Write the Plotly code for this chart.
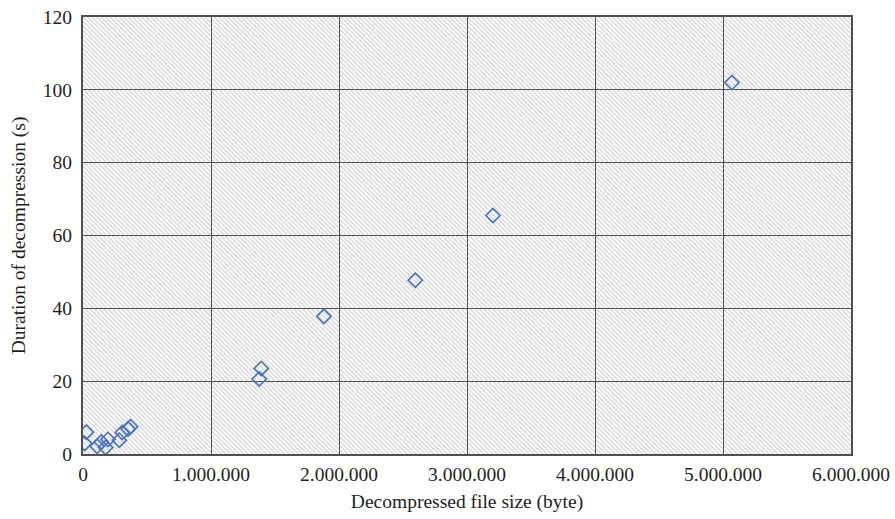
import plotly.graph_objects as go

# Data
file_size_bytes = [13000, 26000, 110000, 143000, 177000, 195000, 284000, 307000,
                   352000, 372000, 1377000, 1393000, 1882000, 2596000, 3203000, 5070000]
duration_s = [2.9, 6.0, 2.1, 3.3, 1.8, 4.0, 3.8, 5.9,
              6.9, 7.5, 20.6, 23.5, 37.8, 47.7, 65.5, 102.0]

x_range = [0, 6000000]
y_range = [0, 120]
x_ticks = [0, 1000000, 2000000, 3000000, 4000000, 5000000, 6000000]
y_ticks = [0, 20, 40, 60, 80, 100, 120]

font_family = "Liberation Serif"
text_color = "#231f20"
grid_color = "#404040"
fs = 19.5

fig = go.Figure()

# Hatched plot-area background (decoration spanning the axis ranges)
fig.add_trace(go.Scatter(
    x=[x_range[0], x_range[1], x_range[1], x_range[0], x_range[0]],
    y=[y_range[0], y_range[0], y_range[1], y_range[1], y_range[0]],
    mode="lines", line=dict(width=0), fill="toself",
    fillcolor="rgba(0,0,0,0)",
    fillpattern=dict(shape="\\", fgcolor="#a3a3a3", bgcolor="rgba(0,0,0,0)",
                     size=3.2, solidity=0.38),
    hoverinfo="skip", showlegend=False,
))

fig.add_trace(go.Scatter(
    x=file_size_bytes, y=duration_s, mode="markers",
    marker=dict(symbol="diamond-open", size=11, color="#4472c4",
                line=dict(width=1.6, color="#4472c4")),
    showlegend=False,
))

fig.update_layout(
    width=895, height=519,
    margin=dict(l=83, r=44, t=17, b=65),
    paper_bgcolor="white", plot_bgcolor="white",
    separators=",.",
    font=dict(family=font_family, size=fs, color=text_color),
)

fig.update_xaxes(
    range=x_range, tickvals=x_ticks, tickformat=",d",
    showgrid=True, gridcolor=grid_color, gridwidth=1.3,
    showline=True, linecolor="#505050", linewidth=2, mirror=True,
    zeroline=False, ticks="", ticklen=0, automargin=False,
    ticklabelstandoff=2,
    title=dict(text="Decompressed file size (byte)", font=dict(size=fs), standoff=10),
    tickfont=dict(size=fs),
)
fig.update_yaxes(
    range=y_range, tickvals=y_ticks,
    showgrid=True, gridcolor=grid_color, gridwidth=1.3,
    showline=True, linecolor="#505050", linewidth=2, mirror=True,
    zeroline=False, ticks="", ticklen=0, automargin=False,
    ticklabelstandoff=5,
    title=dict(text="Duration of decompression (s)", font=dict(size=fs), standoff=12),
    tickfont=dict(size=fs),
)

fig.write_html("out.html", config={"displayModeBar": False},
               post_script="document.body.style.margin='0px';")
